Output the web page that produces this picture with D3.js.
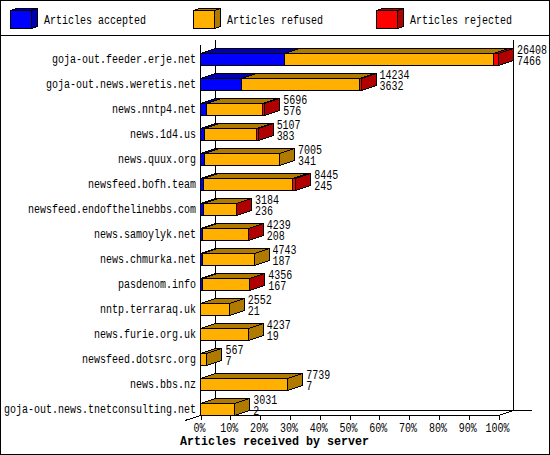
<!DOCTYPE html>
<html lang="en">
<head>
<meta charset="UTF-8">
<title>Articles received by server</title>
<script src="https://d3js.org/d3.v7.min.js"></script>
<style>
  html, body { margin: 0; padding: 0; background: #fff; }
  svg { display: block; }
  text { font-family: "Liberation Mono", monospace; font-size: 12px; fill: #000; }
</style>
</head>
<body>
<div id="chart"></div>
<script>
const servers = ["goja-out.feeder.erje.net", "goja-out.news.weretis.net", "news.nntp4.net", "news.1d4.us",
  "news.quux.org", "newsfeed.bofh.team", "newsfeed.endofthelinebbs.com", "news.samoylyk.net", "news.chmurka.net",
  "pasdenom.info", "nntp.terraraq.uk", "news.furie.org.uk", "newsfeed.dotsrc.org", "news.bbs.nz",
  "goja-out.news.tnetconsulting.net"];
const totals = [26408, 14234, 5696, 5107, 7005, 8445, 3184, 4239, 4743, 4356, 2552, 4237, 567, 7739, 3031];
const accepted = [7466, 3632, 576, 383, 341, 245, 236, 208, 187, 167, 21, 19, 7, 7, 2];
// rejected has no printed label, estimated from the width of the red part
const rejected = [420, 100, 240, 170, 0, 250, 20, 25, 0, 20, 0, 0, 0, 0, 0];
const percentTicks = [0, 10, 20, 30, 40, 50, 60, 70, 80, 90, 100];
const legendNames = ["Articles accepted", "Articles refused", "Articles rejected"];
const xTitle = "Articles received by server";

const width = 550, height = 455;
const depthX = 15, depthY = 5;
const colors = { accepted: "#0000ff", refused: "#ffb000", rejected: "#ff0000" };
const darks = { accepted: "#0000b0", refused: "#b07a00", rejected: "#b00000" };
const keys = ["accepted", "refused", "rejected"];

const svg = d3.select("#chart").append("svg")
  .attr("width", width).attr("height", height)
  .attr("shape-rendering", "crispEdges");

// squeeze the font to the fixed cell of the original bitmap font
function label(sel, str, cell) {
  sel.text(str).attr("textLength", str.length * cell).attr("lengthAdjust", "spacingAndGlyphs");
}

svg.append("rect").attr("x", 0.5).attr("y", 0.5).attr("width", 549).attr("height", 454)
  .attr("fill", "#fff").attr("stroke", "#000");
svg.append("line").attr("x1", 0).attr("x2", 550).attr("y1", 35.5).attr("y2", 35.5).attr("stroke", "#000");

const maxTotal = d3.max(totals);
const x = d3.scaleLinear().domain([0, 100]).range([200.5, 498.5]);
const y = d3.scaleBand().domain(servers).range([53, 415]).paddingInner(0.52);
const pct = v => v / maxTotal * 100;

// a box: top, side, then front, each with black edge
function box(g, x0, x1, y0, y1, dx, dy, key) {
  const poly = (pts, fill) => g.append("polygon").attr("points", pts.join(" "))
    .attr("fill", fill).attr("stroke", "#000");
  poly([[x0, y0], [x0 + dx, y0 - dy], [x1 + dx, y0 - dy], [x1, y0]], darks[key]);
  poly([[x1, y0], [x1 + dx, y0 - dy], [x1 + dx, y1 - dy], [x1, y1]], darks[key]);
  g.append("rect").attr("x", x0).attr("y", y0).attr("width", x1 - x0).attr("height", y1 - y0)
    .attr("fill", colors[key]).attr("stroke", "#000");
}

// legend
const legendBox = [10.5, 193.5, 376.5];
const legendText = [44, 227, 410];
keys.forEach((key, i) => {
  const g = svg.append("g");
  box(g, legendBox[i], legendBox[i] + 21, 10.5, 28.5, 6, 2, key);
  label(g.append("text").attr("x", legendText[i]).attr("y", 24), legendNames[i], 6);
});

// walls and floor
const walls = svg.append("g").attr("stroke", "#000");
walls.append("line").attr("x1", 200.5).attr("x2", 200.5).attr("y1", 45).attr("y2", 415);
walls.append("line").attr("x1", 215.5).attr("x2", 215.5).attr("y1", 40).attr("y2", 410);
walls.append("line").attr("x1", 513.5).attr("x2", 513.5).attr("y1", 40).attr("y2", 410);
walls.append("line").attr("x1", 215).attr("x2", 532).attr("y1", 410.5).attr("y2", 410.5);
walls.append("line").attr("x1", 200).attr("x2", 498).attr("y1", 415.5).attr("y2", 415.5);
walls.append("line").attr("x1", 185).attr("y1", 420.5).attr("x2", 200.5).attr("y2", 415.5);
walls.append("line").attr("x1", 498.5).attr("y1", 415.5).attr("x2", 513.5).attr("y2", 410.5);

// x axis
const xAxis = d3.axisBottom(x).tickValues(percentTicks).tickSize(5).tickFormat(d => d + "%");
const axisG = svg.append("g").attr("transform", "translate(0,415)").call(xAxis);
axisG.select(".domain").remove();
axisG.selectAll(".tick line").attr("stroke", "#000");
axisG.selectAll(".tick text").each(function (d) {
  const s = d + "%";
  label(d3.select(this), s, 6);
  d3.select(this).attr("x", -1.5).attr("y", 6).attr("dy", "10.5");
});

// y labels
const yAxis = d3.axisLeft(y).tickSize(0).tickPadding(4);
const yG = svg.append("g").attr("transform", "translate(200,0)").call(yAxis);
yG.select(".domain").remove();
yG.selectAll(".tick text").each(function (d) { label(d3.select(this), d, 6); });

// bars
const rows = servers.map((name, i) => ({
  name,
  accepted: accepted[i],
  refused: totals[i] - accepted[i] - rejected[i],
  rejected: rejected[i]
}));
const stacked = d3.stack().keys(keys)(rows);

servers.forEach((name, i) => {
  const g = svg.append("g");
  const y0 = Math.round(y(name)) + 0.5;
  const y1 = y0 + 12;
  stacked.forEach(layer => {
    const [a, b] = layer[i];
    if (b - a <= 0) return;
    const x0 = Math.round(x(pct(a)) - 0.5) + 0.5;
    const x1 = Math.round(x(pct(b)) - 0.5) + 0.5;
    box(g, x0, x1, y0, y1, depthX, depthY, layer.key);
  });
  const xEnd = x(pct(totals[i])) + 18.5;
  label(svg.append("text").attr("x", xEnd).attr("y", y0 + 0.5), String(totals[i]), 6);
  label(svg.append("text").attr("x", xEnd).attr("y", y0 + 11.5), String(accepted[i]), 6);
});

const title = svg.append("text").attr("x", 180).attr("y", 445)
  .style("font-weight", "bold").style("font-size", "13px");
label(title, xTitle, 7);
</script>
</body>
</html>
